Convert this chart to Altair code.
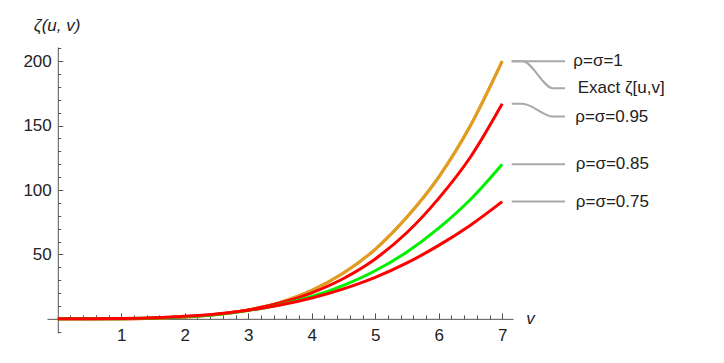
import altair as alt
import pandas as pd

# ---- data ----
v = [0, 0.5, 1, 1.5, 2, 2.5, 3, 3.5, 4, 4.5, 5, 5.5, 6, 6.5, 7]
zeta_1 = [0, 0.005, 0.08, 0.42, 1.33, 3.26, 6.8, 12.7, 22, 35.5, 54, 79, 110, 150, 200]
zeta_exact = [0, 0.005, 0.08, 0.42, 1.33, 3.26, 6.8, 12.7, 22, 35.5, 54, 79, 110, 150, 200]
zeta_095 = [0, 0.008, 0.11, 0.52, 1.52, 3.52, 6.95, 12.3, 20.2, 31.3, 46.5, 67, 93.5, 125.6, 167]
zeta_085 = [0, 0.013, 0.14, 0.57, 1.55, 3.37, 6.4, 10.9, 17.3, 26, 37.3, 51.9, 70.4, 92.6, 120]
zeta_075 = [0, 0.027, 0.23, 0.79, 1.92, 3.8, 6.7, 10.7, 16.2, 23.3, 32.2, 43.4, 57, 72.7, 91]

series_labels = ["ρ=σ=1", "Exact ζ[u,v]", "ρ=σ=0.95", "ρ=σ=0.85", "ρ=σ=0.75"]
series_values = [zeta_1, zeta_exact, zeta_095, zeta_085, zeta_075]
series_colors = ["#E19C24", "#E19C24", "#FF0000", "#00F000", "#FF0000"]

x_ticks_major = [1, 2, 3, 4, 5, 6, 7]
x_ticks_minor = [round(i * 0.2, 1) for i in range(1, 36) if i % 5 != 0]
y_ticks_major = [50, 100, 150, 200]
y_ticks_minor = [t for t in range(-10, 211, 10) if t % 50 != 0]

# callout placement (label anchors)
label_y = [200, 179, 157, 120, 91]
label_x = [8.12, 8.19, 8.15, 8.16, 8.16]
leader_x = [7.15, 7.32, 7.8, 7.99]

# ---- layout ----
x_dom = [-0.17, 7.17]
y_dom = [-11, 211]
W, H = 466, 286
FONT = "Liberation Sans"
AXC = "#555555"
TXC = "#222222"

x0_px = (0 - x_dom[0]) / (x_dom[1] - x_dom[0]) * W  # y-axis position from left
y0_px = (y_dom[1] - 0) / (y_dom[1] - y_dom[0]) * H  # x-axis position from top

keys = [f"s{i}" for i in range(len(series_labels))]
rows = []
for k, name, vals in zip(keys, series_labels, series_values):
    for vi, zi in zip(v, vals):
        rows.append({"v": vi, "zeta": zi, "key": k, "series": name})
df = pd.DataFrame(rows)

lead_rows = []
for i, (name, vals) in enumerate(zip(series_labels, series_values)):
    end = vals[-1]
    ys_ = [end, end, label_y[i], label_y[i]]
    for xx, yy in zip(leader_x, ys_):
        lead_rows.append({"x": xx, "y": yy, "id": i})
df_lead = pd.DataFrame(lead_rows)

df_text = pd.DataFrame({"x": label_x, "y": label_y, "text": series_labels})

xs = alt.Scale(domain=x_dom, nice=False, zero=False)
ys = alt.Scale(domain=y_dom, nice=False, zero=False)

curves = alt.Chart(df).mark_line(interpolate="monotone", strokeWidth=3).encode(
    x=alt.X("v:Q", scale=xs, axis=alt.Axis(
        orient="top", offset=-y0_px, values=x_ticks_major, labels=False, title=None,
        tickSize=6, tickColor=AXC, domainColor=AXC, grid=False)),
    y=alt.Y("zeta:Q", scale=ys, axis=alt.Axis(
        orient="right", offset=-(W - x0_px), values=y_ticks_major, labels=False, title=None,
        tickSize=5, tickColor=AXC, domainColor=AXC, grid=False)),
    color=alt.Color("key:N", scale=alt.Scale(domain=keys, range=series_colors), legend=None),
)

minor = alt.Chart(df).mark_point(opacity=0).encode(
    x=alt.X("v:Q", scale=xs, axis=alt.Axis(
        orient="top", offset=-y0_px, values=x_ticks_minor, labels=False, title=None,
        tickSize=4, tickColor=AXC, domain=False, grid=False)),
    y=alt.Y("zeta:Q", scale=ys, axis=alt.Axis(
        orient="right", offset=-(W - x0_px), values=y_ticks_minor, labels=False, title=None,
        tickSize=3, tickColor=AXC, domain=False, grid=False)),
)

labels = alt.Chart(df).mark_point(opacity=0).encode(
    x=alt.X("v:Q", scale=xs, axis=alt.Axis(
        orient="bottom", offset=-(H - y0_px), values=x_ticks_major, ticks=False, tickSize=0,
        domain=False, grid=False, labelFont=FONT, labelFontSize=17, labelColor=TXC,
        labelPadding=9, format="d",
        title="v", titleFont=FONT, titleFontSize=17, titleFontStyle="italic",
        titleFontWeight="normal", titleColor=TXC, titleX=483, titleY=5,
        titleAlign="center", titleBaseline="alphabetic", titleAngle=0)),
    y=alt.Y("zeta:Q", scale=ys, axis=alt.Axis(
        orient="left", offset=-x0_px, values=y_ticks_major, ticks=False, tickSize=0,
        domain=False, grid=False, labelFont=FONT, labelFontSize=17, labelColor=TXC,
        labelPadding=6.5, labelBaseline="middle",
        title="ζ(u, v)", titleFont=FONT, titleFontSize=17, titleFontStyle="italic",
        titleFontWeight="normal", titleColor=TXC, titleX=-24.5, titleY=-22,
        titleAlign="left", titleBaseline="middle", titleAngle=0)),
)

leaders = alt.Chart(df_lead).mark_line(interpolate="monotone", strokeWidth=2, color="#A8A8A8").encode(
    x=alt.X("x:Q", scale=xs, axis=None),
    y=alt.Y("y:Q", scale=ys, axis=None),
    detail="id:N",
)

texts = alt.Chart(df_text).mark_text(
    align="left", baseline="middle", font=FONT, fontSize=17, color=TXC
).encode(
    x=alt.X("x:Q", scale=xs, axis=None),
    y=alt.Y("y:Q", scale=ys, axis=None),
    text="text:N",
)

chart = alt.layer(minor, labels, curves, leaders, texts).resolve_axis(
    x="independent", y="independent"
).properties(
    width=W, height=H,
    autosize=alt.AutoSizeParams(type="none"),
    padding={"left": 39, "top": 39, "right": 195, "bottom": 20},
).configure_view(stroke=None).configure_axis(domainWidth=1, tickWidth=1)

chart.save("out.html", embed_options={"renderer": "svg", "actions": False})
